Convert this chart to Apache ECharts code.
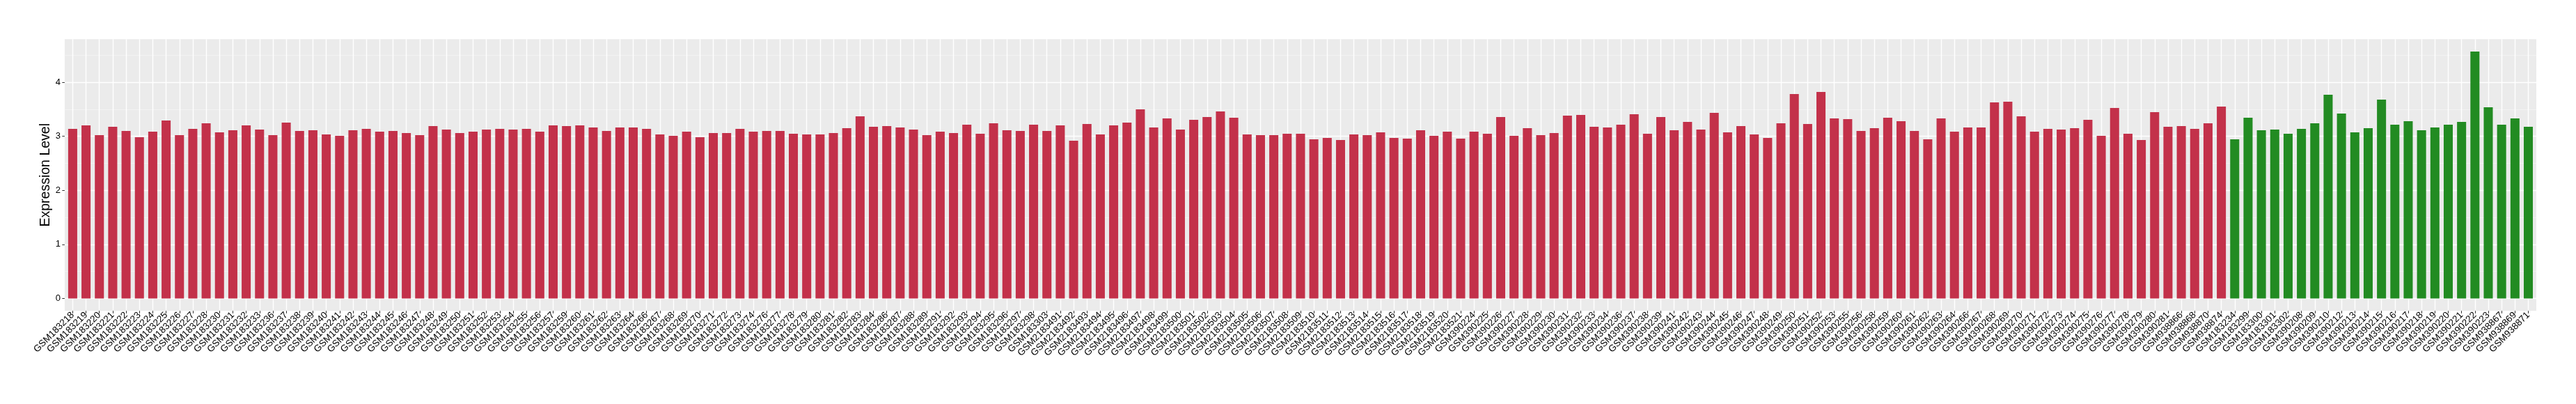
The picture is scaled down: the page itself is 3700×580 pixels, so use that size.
<!DOCTYPE html>
<html>
<head>
<meta charset="utf-8">
<script src="https://cdn.jsdelivr.net/npm/echarts@6/dist/echarts.min.js"></script>
<style>
html,body{margin:0;padding:0;background:#fff;}
#chart{width:3700px;height:580px;}
</style>
</head>
<body>
<div id="chart"></div>
<script>
// ---------------- data ----------------
const tumorCategories = [
 'GSM183218','GSM183219','GSM183220','GSM183221','GSM183222','GSM183223','GSM183224','GSM183225','GSM183226','GSM183227',
 'GSM183228','GSM183230','GSM183231','GSM183232','GSM183233','GSM183236','GSM183237','GSM183238','GSM183239','GSM183240',
 'GSM183241','GSM183242','GSM183243','GSM183244','GSM183245','GSM183246','GSM183247','GSM183248','GSM183249','GSM183250',
 'GSM183251','GSM183252','GSM183253','GSM183254','GSM183255','GSM183256','GSM183257','GSM183259','GSM183260','GSM183261',
 'GSM183262','GSM183263','GSM183264','GSM183266','GSM183267','GSM183268','GSM183269','GSM183270','GSM183271','GSM183272',
 'GSM183273','GSM183274','GSM183276','GSM183277','GSM183278','GSM183279','GSM183280','GSM183281','GSM183282','GSM183283',
 'GSM183284','GSM183286','GSM183287','GSM183288','GSM183289','GSM183291','GSM183292','GSM183293','GSM183294','GSM183295',
 'GSM183296','GSM183297','GSM183298','GSM183303',
 'GSM2183491','GSM2183492','GSM2183493','GSM2183494','GSM2183495','GSM2183496','GSM2183497','GSM2183498','GSM2183499','GSM2183500',
 'GSM2183501','GSM2183502','GSM2183503','GSM2183504','GSM2183505','GSM2183506','GSM2183507','GSM2183508','GSM2183509','GSM2183510',
 'GSM2183511','GSM2183512','GSM2183513','GSM2183514','GSM2183515','GSM2183516','GSM2183517','GSM2183518','GSM2183519','GSM2183520',
 'GSM2183521',
 'GSM390224','GSM390225','GSM390226','GSM390227','GSM390228','GSM390229','GSM390230','GSM390231','GSM390232','GSM390233',
 'GSM390234','GSM390236','GSM390237','GSM390238','GSM390239','GSM390241','GSM390242','GSM390243','GSM390244','GSM390245',
 'GSM390246','GSM390247','GSM390248','GSM390249','GSM390250','GSM390251','GSM390252','GSM390253','GSM390255','GSM390256',
 'GSM390258','GSM390259','GSM390260','GSM390261','GSM390262','GSM390263','GSM390264','GSM390266','GSM390267','GSM390268',
 'GSM390269','GSM390270','GSM390271','GSM390272','GSM390273','GSM390274','GSM390275','GSM390276','GSM390277','GSM390278',
 'GSM390279','GSM390280','GSM390281',
 'GSM938866','GSM938868','GSM938870','GSM938874'
];
const tumorValues = [
 3.137,3.202,3.021,3.176,3.099,2.983,3.086,3.292,3.021,3.137,
 3.241,3.073,3.112,3.202,3.125,3.021,3.253,3.099,3.112,3.034,
 3.009,3.112,3.137,3.086,3.099,3.060,3.021,3.189,3.125,3.060,
 3.086,3.125,3.137,3.125,3.137,3.086,3.202,3.189,3.202,3.163,
 3.099,3.163,3.163,3.137,3.034,3.009,3.086,2.983,3.060,3.060,
 3.137,3.086,3.099,3.099,3.047,3.034,3.034,3.060,3.150,3.369,
 3.176,3.189,3.163,3.125,3.021,3.086,3.060,3.215,3.047,3.241,
 3.112,3.099,3.215,3.099,
 3.202,2.918,3.228,3.034,3.202,3.253,3.498,3.163,3.331,3.125,
 3.305,3.357,3.460,3.344,3.034,3.021,3.021,3.047,3.047,2.944,
 2.970,2.931,3.034,3.021,3.073,2.970,2.957,3.112,3.009,3.086,
 2.957,
 3.086,3.047,3.357,3.009,3.150,3.021,3.060,3.382,3.395,3.176,
 3.163,3.215,3.408,3.047,3.357,3.112,3.266,3.125,3.434,3.073,
 3.189,3.034,2.970,3.241,3.782,3.228,3.820,3.331,3.318,3.099,
 3.150,3.344,3.279,3.099,2.944,3.331,3.086,3.163,3.163,3.627,
 3.640,3.369,3.086,3.137,3.125,3.150,3.305,3.009,3.524,3.047,
 2.931,3.447,3.176,
 3.189,3.137,3.241,3.550
];
const normalCategories = [
 'GSM183234','GSM183299','GSM183300','GSM183301','GSM183302',
 'GSM390208','GSM390209','GSM390210','GSM390212','GSM390213','GSM390214','GSM390215','GSM390216','GSM390217','GSM390218',
 'GSM390219','GSM390220','GSM390221','GSM390222','GSM390223',
 'GSM938867','GSM938869','GSM938871'
];
const normalValues = [
 2.944,3.344,3.112,3.125,3.047,
 3.137,3.241,3.769,3.421,3.073,3.150,3.679,3.215,3.279,3.112,
 3.163,3.215,3.266,4.568,3.537,
 3.215,3.331,3.176
];
const yTickValues = [0, 1, 2, 3, 4];
const yTitle = 'Expression Level';

// ---------------- layout ----------------
const categories = tumorCategories.concat(normalCategories);
const n = categories.length;
const redSeries = tumorValues.concat(normalValues.map(() => null));
const greenSeries = tumorValues.map(() => null).concat(normalValues);

const panelL = 92.9, panelR = 3643, panelT = 56.3, panelB = 446.2, zeroY = 428.5;
const panelW = panelR - panelL, panelH = panelB - panelT;
const band = panelW / (n + 0.2);
const yTopVal = 4.797;
const unit = (zeroY - panelT) / yTopVal;
const FONT = '"Liberation Sans", Arial, Helvetica, sans-serif';

const hiddenAxis = (type, gi, extra) => Object.assign({
  type: type, gridIndex: gi, show: true,
  axisLine: {show: false}, axisTick: {show: false}, axisLabel: {show: false}, splitLine: {show: false}
}, extra || {});

const chart = echarts.init(document.getElementById('chart'), null, {renderer: 'canvas'});
chart.setOption({
  animation: false,
  backgroundColor: '#ffffff',
  grid: [
    {left: panelL, top: panelT, width: panelW, height: panelH, show: true, backgroundColor: '#EBEBEB', borderWidth: 0},
    {left: panelL, top: zeroY - 4.5 * unit, width: panelW, height: 4.5 * unit},
    {left: panelL, top: zeroY - 4 * unit, width: panelW, height: 4 * unit},
    {left: panelL + 0.6 * band, top: panelT, width: (n - 1) * band, height: panelH},
    {left: panelL + 0.1 * band, top: panelT, width: n * band, height: zeroY - panelT}
  ],
  xAxis: [
    hiddenAxis('value', 0, {min: 0, max: 1}),
    hiddenAxis('value', 1, {min: 0, max: 1}),
    hiddenAxis('value', 2, {min: 0, max: 1}),
    hiddenAxis('value', 3, {min: 0, max: n - 1, interval: 1,
      splitLine: {show: true, lineStyle: {color: '#FFFFFF', width: 1.4}}}),
    {
      type: 'category', gridIndex: 4, data: categories, boundaryGap: true,
      offset: panelB - zeroY,
      axisLine: {show: false, onZero: false},
      axisTick: {show: true, alignWithLabel: true, length: 3.7, lineStyle: {color: '#333333', width: 1}},
      axisLabel: {interval: 0, rotate: 45, margin: 4, fontSize: 13.5, color: '#000000', fontFamily: FONT},
      splitLine: {show: false}
    }
  ],
  yAxis: [
    hiddenAxis('value', 0, {min: 0, max: 1, name: yTitle, nameLocation: 'middle', nameRotate: 90, nameGap: 17,
      nameTextStyle: {fontSize: 19.5, color: '#000000', fontFamily: FONT}}),
    hiddenAxis('value', 1, {min: 0, max: 4.5, interval: 0.5,
      splitLine: {show: true, lineStyle: {color: '#F5F5F5', width: 0.8}}}),
    {
      type: 'value', gridIndex: 2, min: 0, max: yTickValues[yTickValues.length - 1], interval: 1,
      axisLine: {show: false},
      axisTick: {show: true, length: 3.6, lineStyle: {color: '#333333', width: 1}},
      axisLabel: {show: true, margin: 6, fontSize: 13, color: '#000000', fontFamily: FONT},
      splitLine: {show: true, lineStyle: {color: '#FFFFFF', width: 1.4}}
    },
    hiddenAxis('value', 3, {min: 0, max: 1}),
    hiddenAxis('value', 4, {min: 0, max: yTopVal})
  ],
  series: [
    {type: 'bar', name: 'Tumor', xAxisIndex: 4, yAxisIndex: 4, data: redSeries,
     barWidth: '68%', barGap: '-100%', itemStyle: {color: '#C3314A'}},
    {type: 'bar', name: 'Normal', xAxisIndex: 4, yAxisIndex: 4, data: greenSeries,
     barWidth: '68%', barGap: '-100%', itemStyle: {color: '#228B22'}}
  ]
});
</script>
</body>
</html>
